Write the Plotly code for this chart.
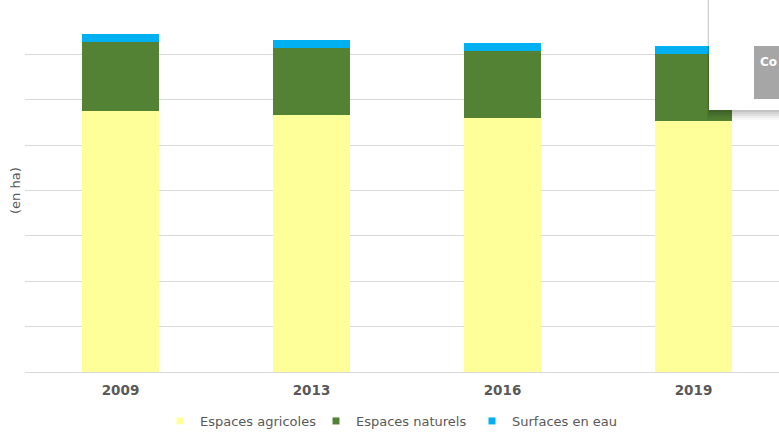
import plotly.graph_objects as go

years = ["2009", "2013", "2016", "2019"]
agricoles = [5750, 5660, 5600, 5530]
naturels = [1520, 1480, 1470, 1480]
eau = [180, 180, 180, 170]
series_names = ["Espaces agricoles", "Espaces naturels", "Surfaces en eau"]
series_colors = ["#FFFF99", "#548235", "#00B0F0"]
series_values = [agricoles, naturels, eau]

W, H = 779, 432
ML, MR, MT, MB = 25, 0, 8, 60
PW, PH = W - ML - MR, H - MT - MB

fig = go.Figure()
for name, color, vals in zip(series_names, series_colors, series_values):
    fig.add_trace(go.Bar(x=years, y=vals, name=name, marker=dict(color=color, line=dict(width=0)),
                         width=0.4, showlegend=False, hoverinfo="skip"))
    fig.add_trace(go.Scatter(x=[None], y=[None], mode="markers", name=name,
                             marker=dict(symbol="square", size=7, color=color)))

def px(x):
    return (x - ML) / PW

def py(y):
    return (H - MB - y) / PH

shapes = []
# popup shadow (mostly below)
for i, a in enumerate([0.03, 0.04, 0.05, 0.06, 0.07]):
    d = 10 - 2 * i
    shapes.append(dict(type="rect", xref="paper", yref="paper", layer="above",
                       x0=px(709 - d / 5), x1=px(790), y0=py(110 + d), y1=py(-5),
                       fillcolor=f"rgba(0,0,0,{a})", line=dict(width=0)))
shapes.append(dict(type="rect", xref="paper", yref="paper", layer="above",
                   x0=px(709), x1=px(790), y0=py(110), y1=py(-5),
                   fillcolor="white", line=dict(width=0)))
shapes.append(dict(type="rect", xref="paper", yref="paper", layer="above",
                   x0=px(754), x1=px(790), y0=py(99), y1=py(46),
                   fillcolor="#A6A6A6", line=dict(width=0)))

fig.update_layout(
    width=W, height=H,
    margin=dict(l=ML, r=MR, t=MT, b=MB, pad=0, autoexpand=False),
    barmode="stack",
    paper_bgcolor="white", plot_bgcolor="white",
    font=dict(family="DejaVu Sans", size=13, color="#595959"),
    xaxis=dict(type="category", range=[-0.5, 3.5 - 10 / 191], showgrid=False,
               showline=False, ticks="", tickfont=dict(size=13.5, color="#595959", family="DejaVu Sans", weight="bold"),
               ticklabelstandoff=8),
    yaxis=dict(range=[0, 8020], tick0=0, dtick=1000, showgrid=True, gridcolor="#D9D9D9", gridwidth=1,
               showticklabels=False, zeroline=True, zerolinecolor="#D9D9D9", zerolinewidth=1),
    legend=dict(orientation="h", x=px(160), xanchor="left", y=py(421), yanchor="middle",
                traceorder="normal",
                font=dict(size=13, color="#595959"), itemwidth=30, entrywidth=111, entrywidthmode="pixels",
                tracegroupgap=0, bgcolor="rgba(0,0,0,0)"),
    shapes=shapes,
    hovermode=False,
    annotations=[
        dict(text="(en ha)", xref="paper", yref="paper", x=px(15), y=py(191), textangle=-90,
             showarrow=False, font=dict(size=13, color="#595959"), xanchor="center", yanchor="middle"),
        dict(text="<b>Co</b>", xref="paper", yref="paper", x=px(759), y=py(62), xanchor="left",
             yanchor="middle", showarrow=False, font=dict(size=12, color="white"), borderpad=0),
    ],
)

fig.write_html("out.html", config={"displayModeBar": False},
               post_script="document.body.style.margin='0';")
